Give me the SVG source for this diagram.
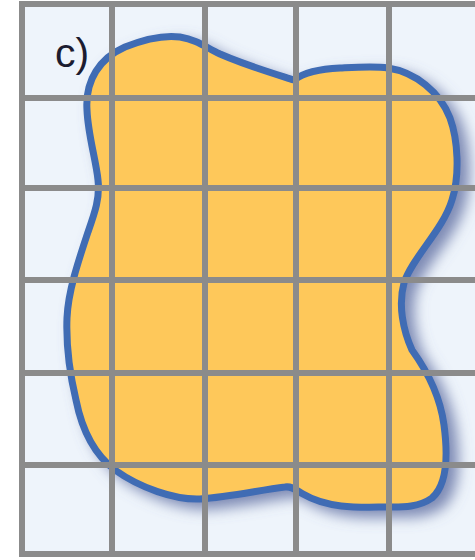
<svg xmlns="http://www.w3.org/2000/svg" width="475" height="560" viewBox="0 0 475 560">
  <style>
    .grid { stroke: #8b8b8b; stroke-width: 6; fill: none; }
    .blob { fill: #fec85a; stroke: #3f6cb4; stroke-width: 7; stroke-linejoin: round; }
    .label { font-family: "Liberation Sans", Arial, sans-serif; font-size: 41px; fill: #1c1c30; }
  </style>
  <defs>
    <filter id="shadow" x="-20%" y="-20%" width="140%" height="140%">
      <feGaussianBlur in="SourceAlpha" stdDeviation="7" result="b"/>
      <feOffset in="b" dx="9" dy="7" result="o"/>
      <feFlood flood-color="#6a78a8" flood-opacity="0.85"/>
      <feComposite in2="o" operator="in" result="s"/>
      <feMerge>
        <feMergeNode in="s"/>
        <feMergeNode in="SourceGraphic"/>
      </feMerge>
    </filter>
  </defs>
  <rect x="0" y="0" width="475" height="560" fill="#ffffff"/>
  <rect id="background" x="22" y="4" width="453" height="550" fill="#eef4fb"/>
  <g id="shape">
    <path class="blob" filter="url(#shadow)" d="M 87,110 C 85,80 100,58 125,47 C 145,39 165,35 180,37 C 198,40 205,47 220,54 C 245,65 272,73 294,80 C 302,74 315,69 340,68 C 360,67 375,66 388,68 C 415,72 440,92 450,118 C 458,140 460,175 452,200 C 443,230 412,258 404,283 C 398,305 403,330 412,350 C 425,368 440,395 444,425 C 448,455 447,485 432,498 C 418,508 400,507 388,507 C 365,507 330,510 303,494 C 296,490 292,486 285,487 C 260,490 230,497 200,499 C 175,500 140,488 115,470 C 95,455 82,430 76,400 C 70,375 66,345 67,318 C 68,292 78,262 88,232 C 95,212 100,198 98,180 C 96,160 88,135 87,110 Z"/>
  </g>
  <g id="grid" class="grid">
    <line x1="22" y1="1" x2="22" y2="557"/>
    <line x1="112" y1="1" x2="112" y2="557"/>
    <line x1="205" y1="1" x2="205" y2="557"/>
    <line x1="296" y1="1" x2="296" y2="557"/>
    <line x1="389" y1="1" x2="389" y2="557"/>
    <line x1="19" y1="4" x2="475" y2="4"/>
    <line x1="19" y1="98" x2="475" y2="98"/>
    <line x1="19" y1="188" x2="475" y2="188"/>
    <line x1="19" y1="280" x2="475" y2="280"/>
    <line x1="19" y1="373" x2="475" y2="373"/>
    <line x1="19" y1="465" x2="475" y2="465"/>
    <line x1="19" y1="554" x2="475" y2="554"/>
  </g>
  <g id="label">
    <text class="label" x="55" y="67">c)</text>
  </g>
</svg>
